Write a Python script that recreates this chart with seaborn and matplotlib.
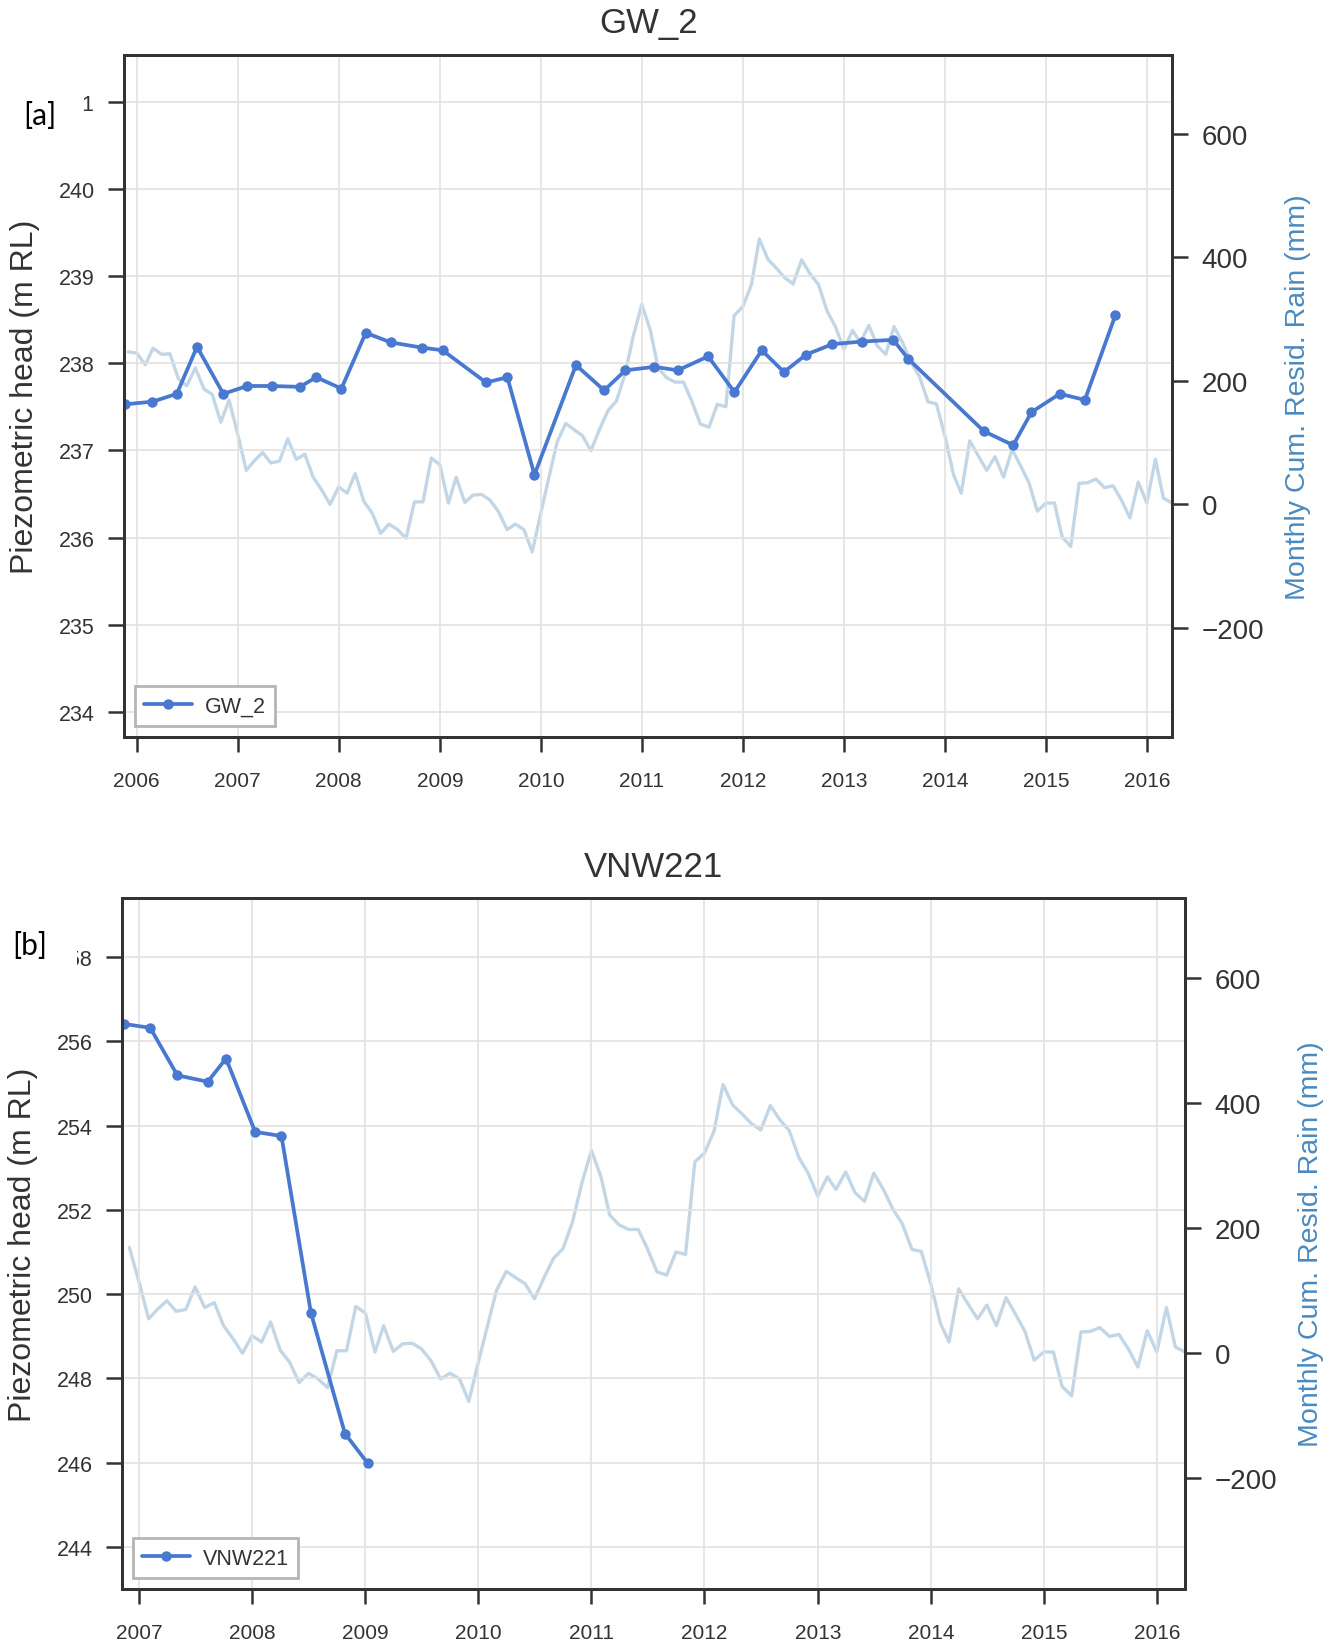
import numpy as np
import pandas as pd
import matplotlib
matplotlib.use("Agg")
import matplotlib.pyplot as plt
import matplotlib.dates as mdates
from matplotlib.ticker import FixedLocator, FixedFormatter
from matplotlib.transforms import Bbox
import seaborn as sns

# ---------------- data ----------------
# monthly cumulative residual rainfall (mm), monthly from Nov 2005
rain_start = "2005-11-01"
rain_values = [249, 247, 245, 226, 253, 243, 244, 203, 192, 221, 187, 178, 133,
               169, 114, 55, 70, 84, 67, 70, 106, 73, 81, 44, 23, 0, 28, 18, 50,
               5, -14, -47, -32, -41, -55, 4, 4, 75, 64, 2, 44, 3, 15, 16, 7,
               -12, -41, -32, -41, -77, -14, 47, 101, 131, 121, 111, 87, 121,
               152, 167, 210, 272, 324, 282, 221, 205, 198, 198, 167,
               130, 125, 162, 158, 306, 320, 355, 430, 397, 383, 367, 357, 396,
               373, 356, 313, 288, 251, 282, 262, 290, 257, 243, 288, 262, 230,
               207, 166, 163, 111, 48, 18, 103, 79, 55, 77, 44, 89, 63, 35, -11,
               2, 2, -53, -68, 34, 35, 41, 27, 30, 7, -22, 36, 2, 73, 10, 2]

gw2_dates = ["2005-11-21", "2006-02-27", "2006-05-26", "2006-08-07", "2006-11-10",
             "2007-02-05", "2007-05-04", "2007-08-14", "2007-10-12", "2008-01-11",
             "2008-04-08", "2008-07-08", "2008-10-29", "2009-01-11", "2009-06-17",
             "2009-09-02", "2009-12-09", "2010-05-08", "2010-08-18", "2010-11-03",
             "2011-02-16", "2011-05-11", "2011-08-29", "2011-12-02", "2012-03-10",
             "2012-05-29", "2012-08-17", "2012-11-20", "2013-03-07", "2013-06-28",
             "2013-08-22", "2014-05-22", "2014-09-05", "2014-11-10", "2015-02-20",
             "2015-05-22", "2015-09-09"]
gw2_head = [237.53, 237.56, 237.65, 238.19, 237.65, 237.74, 237.74, 237.73, 237.84,
            237.71, 238.35, 238.24, 238.18, 238.15, 237.78, 237.84, 236.72, 237.98,
            237.69, 237.92, 237.96, 237.92, 238.08, 237.67, 238.15, 237.90, 238.10,
            238.22, 238.25, 238.27, 238.05, 237.22, 237.06, 237.44, 237.65, 237.58,
            238.55]

vnw_dates = ["2006-11-14", "2007-02-06", "2007-05-05", "2007-08-11", "2007-10-09",
             "2008-01-11", "2008-04-05", "2008-07-09", "2008-10-27", "2009-01-08"]
vnw_head = [256.41, 256.32, 255.19, 255.04, 255.59, 253.85, 253.75, 249.56, 246.69, 245.99]

gw2_ticks = [234, 235, 236, 237, 238, 239, 240, 241]
gw2_ticklabels = ["234", "235", "236", "237", "238", "239", "240", "241"]
vnw_ticks = [244, 246, 248, 250, 252, 254, 256, 258]
vnw_ticklabels = ["244", "246", "248", "250", "252", "254", "256", "258"]
rain_ticks = [-200, 0, 200, 400, 600]

# ---------------- style ----------------
sns.set_theme(style="whitegrid")
plt.rcParams['font.family'] = ['Liberation Sans', 'DejaVu Sans']
plt.rcParams['axes.edgecolor'] = '#333333'
plt.rcParams['axes.linewidth'] = 2.0
plt.rcParams['grid.color'] = '#e2e2e2'
plt.rcParams['grid.linewidth'] = 1.2

W, H = 1333, 1649
fig = plt.figure(figsize=(W / 100, H / 100), dpi=100)
fig.patch.set_facecolor('white')

LINE_C = '#4878CF'
RAIN_C = '#4682B4'
TXT_C = '#333333'
RLAB_C = '#4a8ac0'

rain_dates = pd.date_range(rain_start, periods=len(rain_values), freq='MS')
rain_df = pd.DataFrame({'date': rain_dates, 'rain': rain_values})


def panel(rect_px, name, dates, heads, xlim, ylim, yticks, yticklabels, clip_px,
          title_xy, ylab_x, rlab_x, tag, tag_xy):
    l, t, r, b = rect_px
    ax = fig.add_axes([l / W, 1 - b / H, (r - l) / W, (b - t) / H])
    axr = ax.twinx()

    df = pd.DataFrame({'date': pd.to_datetime(dates), 'head': heads})
    rsub = rain_df[rain_df['date'] >= df['date'].min()]
    sns.lineplot(data=rsub, x='date', y='rain', ax=axr, color=RAIN_C,
                 alpha=0.32, linewidth=2.4)
    sns.lineplot(data=df, x='date', y='head', ax=ax, color=LINE_C, linewidth=2.7,
                 marker='o', markersize=7.5, markeredgewidth=0, label=name)

    ax.set_zorder(axr.get_zorder() + 1)
    ax.patch.set_visible(False)

    ax.set_xlim(pd.Timestamp(xlim[0]), pd.Timestamp(xlim[1]))
    ax.set_ylim(*ylim)
    axr.set_ylim(-377, 728)
    ax.yaxis.set_major_locator(FixedLocator(yticks))
    ax.yaxis.set_major_formatter(FixedFormatter(yticklabels))
    axr.yaxis.set_major_locator(FixedLocator(rain_ticks))
    ax.xaxis.set_major_locator(mdates.YearLocator())
    ax.xaxis.set_major_formatter(mdates.DateFormatter('%Y'))

    ax.grid(True)
    axr.grid(False)
    ax.set_xlabel('')
    ax.set_ylabel('')
    axr.set_xlabel('')
    axr.set_ylabel('')

    ax.tick_params(axis='y', left=True, direction='out', length=11.5, width=1.8,
                   color='#333333', pad=9.4, labelsize=15.5, labelcolor=TXT_C)
    ax.tick_params(axis='x', bottom=True, direction='out', length=10.5, width=1.8,
                   color='#333333', pad=14, labelsize=15, labelcolor=TXT_C)
    axr.tick_params(axis='y', right=True, direction='out', length=11.5, width=1.8,
                    color='#333333', pad=10, labelsize=20, labelcolor=TXT_C)
    for s in list(ax.spines.values()) + list(axr.spines.values()):
        s.set_color('#333333')
        s.set_linewidth(2.1)

    # the uppermost left tick label is cut off in the reference
    ticks = ax.yaxis.get_major_ticks()
    lab = ticks[-1].label1
    lab.set_clip_on(True)
    lab.set_clip_box(Bbox([[clip_px, 0], [W, H]]))

    leg = ax.legend(loc='lower left', frameon=True, fancybox=False, fontsize=15.5,
                    handlelength=2.2, handletextpad=0.6, borderaxespad=0.5,
                    framealpha=1, edgecolor='#b5b5b5', borderpad=0.45)
    leg.get_frame().set_linewidth(2.0)
    for txt in leg.get_texts():
        txt.set_color(TXT_C)

    cy = (t + b) / 2
    fig.text(title_xy[0] / W, 1 - title_xy[1] / H, name, ha='center', va='center',
             fontsize=25, color=TXT_C)
    fig.text(ylab_x / W, 1 - cy / H, 'Piezometric head (m RL)', rotation=90,
             ha='center', va='center', fontsize=23, color=TXT_C)
    fig.text(rlab_x / W, 1 - cy / H, 'Monthly Cum. Resid. Rain (mm)', rotation=90,
             ha='center', va='center', fontsize=20.5, color=RLAB_C)
    fig.text(tag_xy[0] / W, 1 - tag_xy[1] / H, tag, ha='center', va='center',
             fontsize=21.5, color='black', family=['Lato', 'DejaVu Sans'])
    return ax, axr


panel((124, 56, 1172, 738), 'GW_2', gw2_dates, gw2_head,
      ('2005-11-16', '2016-04-01'), (233.71, 241.54), gw2_ticks, gw2_ticklabels,
      83.5, (649, 23), 25, 1298, '[a]', (40, 116))

panel((122, 899, 1185, 1590), 'VNW221', vnw_dates, vnw_head,
      ('2006-11-07', '2016-04-01'), (243.0, 259.4), vnw_ticks, vnw_ticklabels,
      76.5, (653, 868), 23, 1311, '[b]', (29.5, 946))

fig.savefig('out.png', dpi=100, facecolor='white')
